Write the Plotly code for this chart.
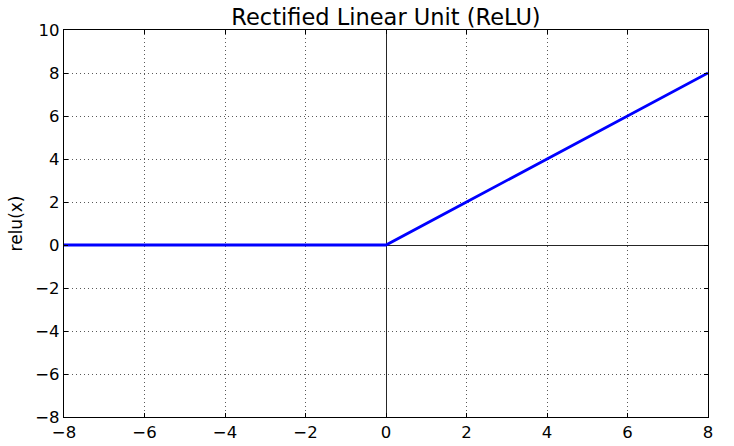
import plotly.graph_objects as go

x_vals = [-8, -6, -4, -2, 0, 2, 4, 6, 8]
relu_vals = [0, 0, 0, 0, 0, 2, 4, 6, 8]
x_ticks = [-8, -6, -4, -2, 0, 2, 4, 6, 8]
y_ticks = [-8, -6, -4, -2, 0, 2, 4, 6, 8, 10]

fig = go.Figure()
fig.add_trace(go.Scatter(x=x_vals, y=relu_vals, mode="lines",
                         line=dict(color="#0000ff", width=2.8), showlegend=False))

font = dict(family="DejaVu Sans", size=16.5, color="black")
axis_common = dict(
    showgrid=True, gridcolor="rgba(0,0,0,0.65)", griddash="1px,3px", gridwidth=1,
    showline=True, linecolor="black", linewidth=1.2, mirror="ticks",
    ticks="inside", ticklen=4, tickcolor="black",
    zeroline=True, zerolinecolor="rgba(0,0,0,0.85)", zerolinewidth=1.2,
    tickfont=font, automargin=False,
)
fig.update_xaxes(range=[-8, 8], tickvals=x_ticks,
                 ticktext=[str(v).replace("-", "\u2212") for v in x_ticks], **axis_common)
fig.update_yaxes(range=[-8, 10], tickvals=y_ticks,
                 ticktext=[str(v).replace("-", "\u2212") for v in y_ticks],
                 title=dict(text="relu(x)", font=dict(family="DejaVu Sans", size=17, color="black"),
                            standoff=8), **axis_common)
fig.update_layout(
    width=734, height=446,
    margin=dict(l=64, r=26, t=30, b=29, autoexpand=False),
    paper_bgcolor="white", plot_bgcolor="white",
    title=dict(text="Rectified Linear Unit (ReLU)", x=(64 + 708) / 2 / 734, xanchor="center",
               y=1 - 17/446, yanchor="middle",
               font=dict(family="DejaVu Sans", size=22.5, color="black")),
    font=font,
)
fig.write_html("out.html", config={"displayModeBar": False},
               post_script="document.body.style.margin='0';document.body.style.overflow='hidden';")
